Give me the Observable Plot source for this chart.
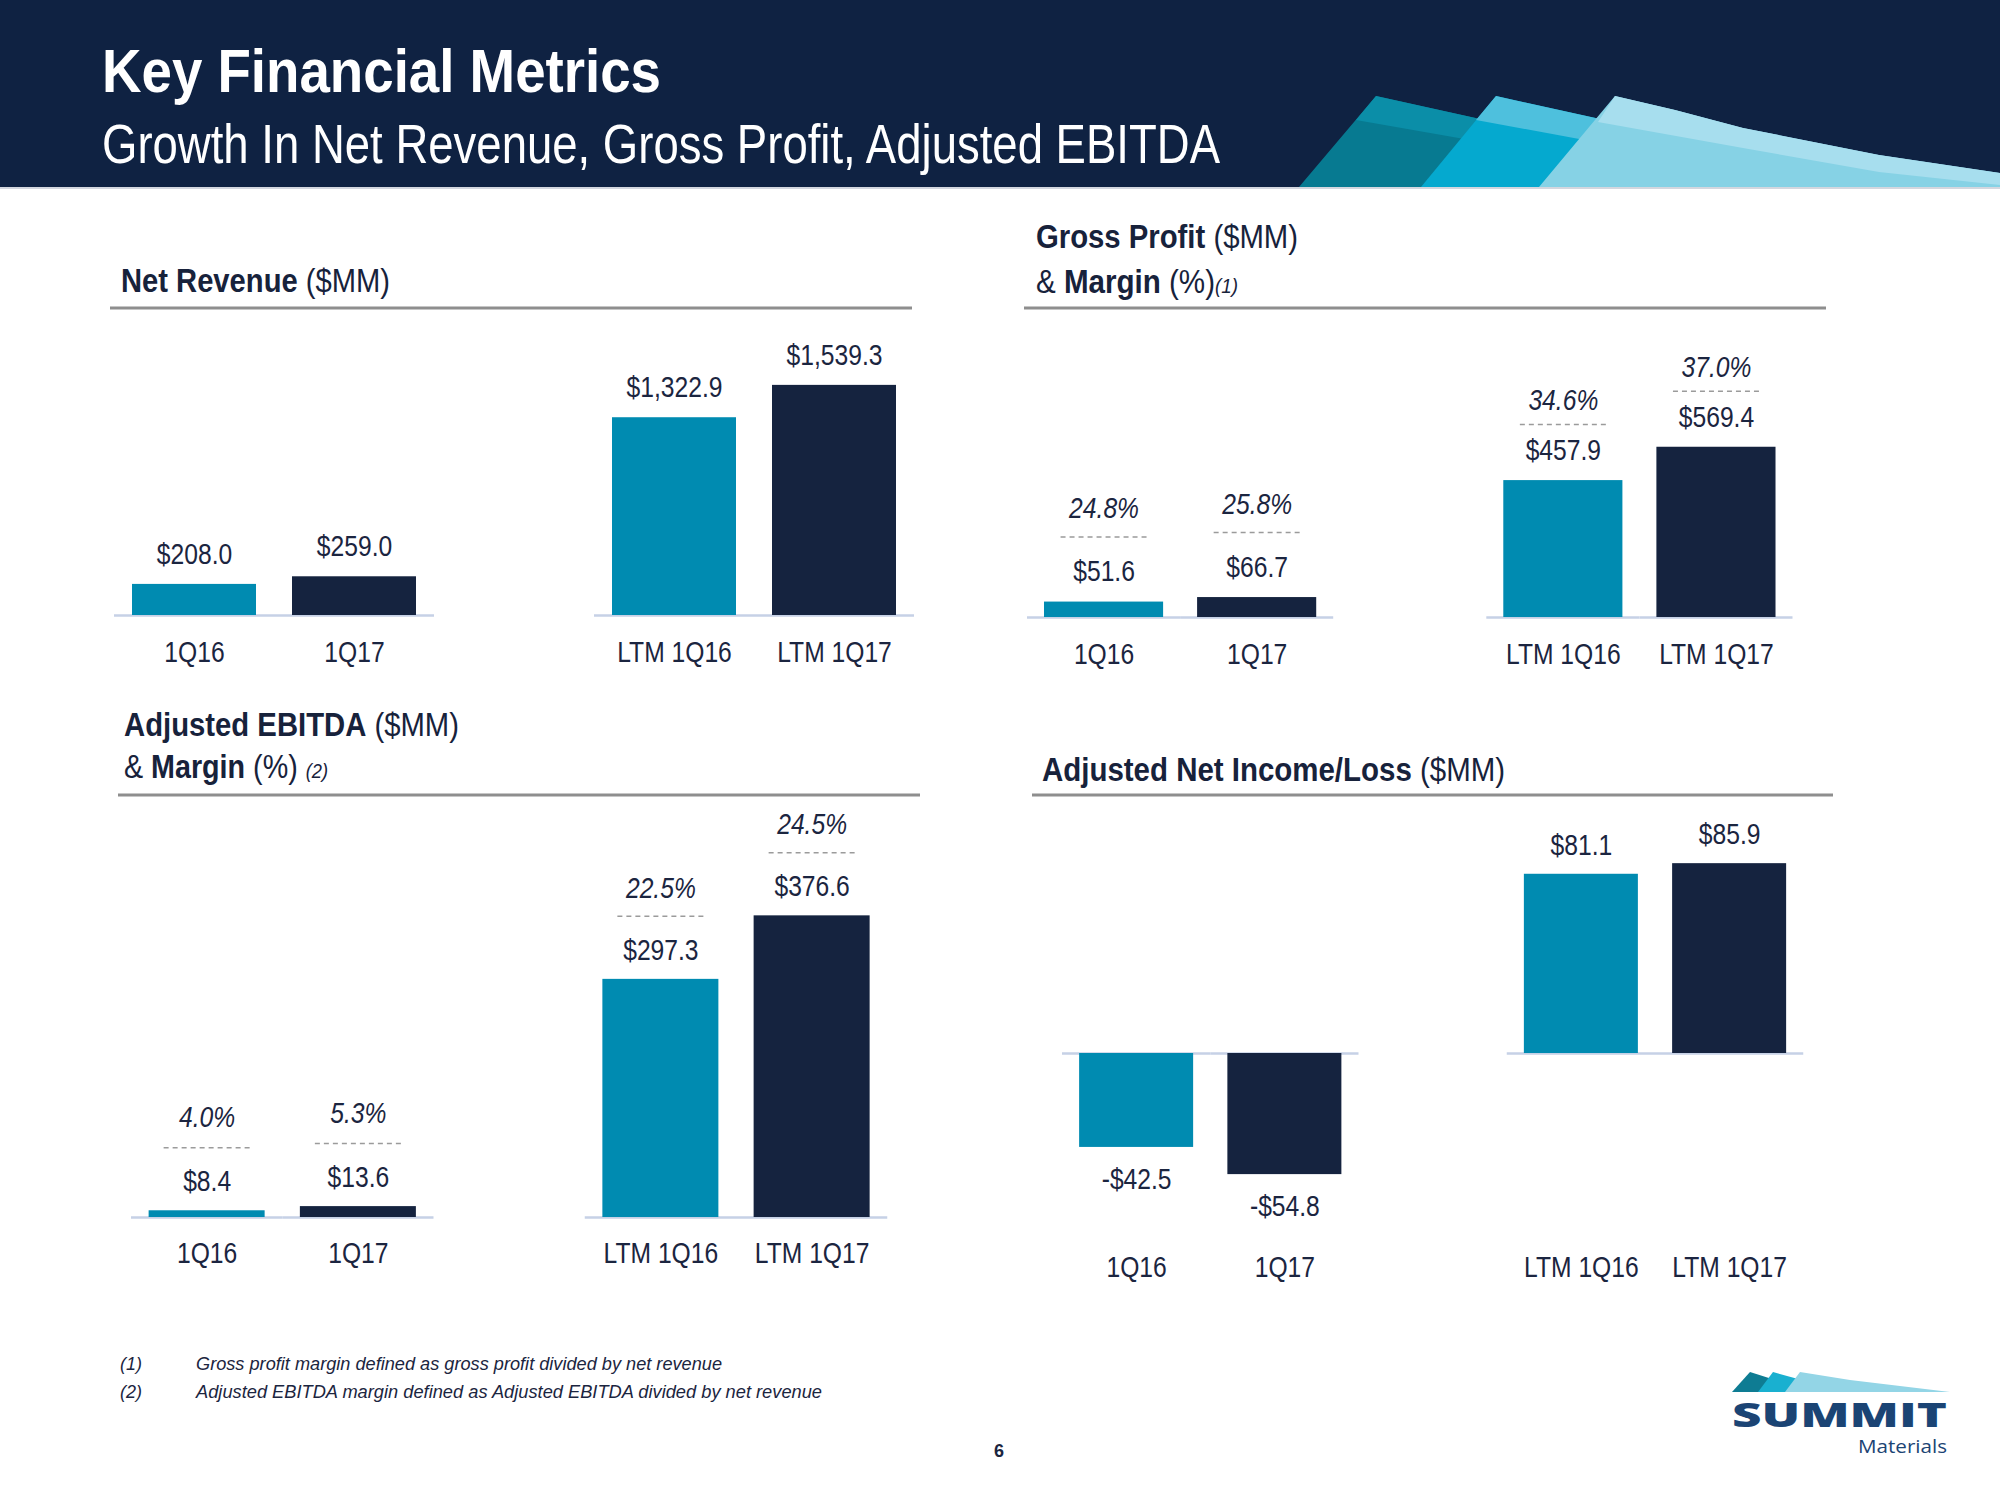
<!DOCTYPE html>
<html>
<head>
<meta charset="utf-8">
<script src="https://cdn.jsdelivr.net/npm/d3@7"></script>
<script src="https://cdn.jsdelivr.net/npm/@observablehq/plot@0.6"></script>
<style>
  html, body { margin: 0; padding: 0; background: #ffffff; }
  body { width: 2000px; height: 1500px; position: relative; overflow: hidden;
         font-family: "Liberation Sans Narrow", "Arial Narrow", "Liberation Sans", Arial, sans-serif; }
  #bg { position: absolute; left: 0; top: 0; }
  .panel { position: absolute; }
  .panel svg { overflow: visible; max-width: none !important; }
</style>
</head>
<body>
<svg id="bg" width="2000" height="1500" xmlns="http://www.w3.org/2000/svg"
     font-family="'Liberation Sans Narrow','Arial Narrow','Liberation Sans',Arial,sans-serif">
  <!-- header band -->
  <rect x="0" y="0" width="2000" height="187" fill="#0f2242"/>
  <rect x="0" y="187" width="2000" height="2" fill="#d3d7df"/>
  <!-- header decoration -->
  <path d="M1299,187 L1376,96 L1480,119 L1800,187 Z" fill="#077a91"/>
  <path d="M1376,96 L1480,119 L1470,140 L1356,120 Z" fill="#0b8ea8"/>
  <path d="M1421,187 L1496,96 L1600,119 L1900,187 Z" fill="#05a9cf"/>
  <path d="M1496,96 L1600,119 L1590,141 L1476,120 Z" fill="#4ec0dd"/>
  <path d="M1539,187 L1615,96 L1675,110 L1743,128 L1879,155 L2000,173 L2000,187 Z" fill="#86d2e5"/>
  <path d="M1615,96 L1675,110 L1743,128 L1879,155 L2000,173 L2000,185 L1879,172 L1743,148 L1598,122 Z" fill="#a7deee"/>
  <text x="102" y="92" fill="#ffffff" font-size="61" font-weight="bold" textLength="559" lengthAdjust="spacingAndGlyphs">Key Financial Metrics</text>
  <text x="102" y="163" fill="#ffffff" font-size="56" textLength="1118" lengthAdjust="spacingAndGlyphs">Growth In Net Revenue, Gross Profit, Adjusted EBITDA</text>

  <!-- panel titles & rules -->
  <g fill="#17223b">
    <text x="121" y="292" font-size="33" textLength="269" lengthAdjust="spacingAndGlyphs"><tspan font-weight="bold">Net Revenue</tspan> ($MM)</text>
    <text x="1036" y="248" font-size="33" textLength="262" lengthAdjust="spacingAndGlyphs"><tspan font-weight="bold">Gross Profit</tspan> ($MM)</text>
    <text x="1036" y="293" font-size="33" textLength="202" lengthAdjust="spacingAndGlyphs">&amp; <tspan font-weight="bold">Margin</tspan> (%)<tspan font-style="italic" font-size="21">(1)</tspan></text>
    <text x="124" y="736" font-size="33" textLength="335" lengthAdjust="spacingAndGlyphs"><tspan font-weight="bold">Adjusted EBITDA</tspan> ($MM)</text>
    <text x="124" y="778" font-size="33" textLength="204" lengthAdjust="spacingAndGlyphs">&amp; <tspan font-weight="bold">Margin</tspan> (%) <tspan font-style="italic" font-size="21">(2)</tspan></text>
    <text x="1042" y="781" font-size="33" textLength="463" lengthAdjust="spacingAndGlyphs"><tspan font-weight="bold">Adjusted Net Income/Loss</tspan> ($MM)</text>
  </g>
  <g fill="#8e8e8e">
    <rect x="110" y="306.5" width="802" height="3"/>
    <rect x="1024" y="306.5" width="802" height="3"/>
    <rect x="118" y="793.5" width="802" height="3"/>
    <rect x="1032" y="793.5" width="801" height="3"/>
  </g>

  <!-- footnotes -->
  <g fill="#1b2540" font-size="18" font-style="italic">
    <text x="120" y="1370">(1)</text>
    <text x="196" y="1370" textLength="526" lengthAdjust="spacingAndGlyphs">Gross profit margin defined as gross profit divided by net revenue</text>
    <text x="120" y="1398">(2)</text>
    <text x="196" y="1398" textLength="626" lengthAdjust="spacingAndGlyphs">Adjusted EBITDA margin defined as Adjusted EBITDA divided by net revenue</text>
  </g>
  <text x="999" y="1457" fill="#1b2540" font-size="18" font-weight="bold" text-anchor="middle">6</text>

  <!-- logo -->
  <path d="M1732,1392 L1750,1372 L1772,1379 L1800,1392 Z" fill="#0e7c93"/>
  <path d="M1758,1392 L1773,1372 L1798,1379 L1830,1392 Z" fill="#19b0d0"/>
  <path d="M1785,1392 L1800,1372 L1850,1380 L1950,1392 Z" fill="#93d5e6"/>
  <text x="1732" y="1427" fill="#1b4474" font-size="33" font-weight="900" font-family="'Open Sans','DejaVu Sans',sans-serif" textLength="215" lengthAdjust="spacingAndGlyphs">SUMMIT</text>
  <text x="1947" y="1453" fill="#1b4474" font-size="18" text-anchor="end" font-family="'Open Sans','DejaVu Sans',sans-serif" textLength="89" lengthAdjust="spacingAndGlyphs">Materials</text>
</svg>

<div id="p1" class="panel"></div>
<div id="p2" class="panel"></div>
<div id="p3" class="panel"></div>
<div id="p4" class="panel"></div>

<script>
// ---------------- data ----------------
const categories = ["1Q16", "1Q17", "LTM 1Q16", "LTM 1Q17"];
const netRevenue = [208.0, 259.0, 1322.9, 1539.3];
const grossProfit = [51.6, 66.7, 457.9, 569.4];
const grossMargin = [24.8, 25.8, 34.6, 37.0];
const adjEbitda = [8.4, 13.6, 297.3, 376.6];
const ebitdaMargin = [4.0, 5.3, 22.5, 24.5];
const adjNetIncome = [-42.5, -54.8, 81.1, 85.9];

// ---------------- style ----------------
const TEAL = "#008bb1";
const NAVY = "#15233f";
const BASE = "#c6d1e6";
const TEXT = "#1b2540";
const FONT = "'Liberation Sans Narrow','Arial Narrow','Liberation Sans',Arial,sans-serif";
const CONDENSE = 0.85; // emulate a narrow face

const fmtMoney = v => (v < 0 ? "-$" : "$") + d3.format(",.1f")(Math.abs(v));
const fmtPct = v => d3.format(".1f")(v) + "%";

// layout of each panel (pixel geometry of the page)
const panels = [
  {id: "p1", values: netRevenue, margins: null,
   x0: 114, step: 160, pi: 0.225, top: 330, base: 615, bottom: 615, k: 0.1495,
   valueDy: 30, tickDy: 37},
  {id: "p2", values: grossProfit, margins: grossMargin,
   x0: 1027, step: 153.1, pi: 0.222, top: 330, base: 617, bottom: 617, k: 0.299,
   valueDy: 30, tickDy: 37, dash: [-65, -56], pct: [-93, -80]},
  {id: "p3", values: adjEbitda, margins: ebitdaMargin,
   x0: 131.4, step: 151.25, pi: 0.233, top: 810, base: 1217, bottom: 1217, k: 0.801,
   valueDy: 29, tickDy: 36, dash: [-63, -63], pct: [-93, -91]},
  {id: "p4", values: adjNetIncome, margins: null,
   x0: 1062, step: 148.25, pi: 0.231, top: 810, base: 1053, bottom: 1230, k: 2.21,
   valueDy: 29, negDy: 32, tickDy: 37}
];

function drawPanel(cfg) {
  const rows = categories.map((c, i) => ({
    cat: c, value: cfg.values[i],
    margin: cfg.margins ? cfg.margins[i] : null,
    group: i < 2 ? 0 : 1
  }));
  const mL = 40, mR = 40, mT = 40, mB = 70;
  const frameH = cfg.bottom - cfg.top;
  const width = mL + 5 * cfg.step + mR;
  const height = mT + frameH + mB;
  const gap = cfg.pi * cfg.step;
  const bw = cfg.step - gap;
  const xDomain = [categories[0], categories[1], "\u00a0gap\u00a0", categories[2], categories[3]];

  const marks = [
    Plot.tickY(rows, {x: "cat", y: () => 0, stroke: BASE, strokeWidth: 2.5,
                      insetLeft: -gap / 2, insetRight: -gap / 2}),
    Plot.barY(rows, {x: "cat", y: "value", fill: "cat"}),
    Plot.text(rows.filter(d => d.value >= 0), {x: "cat", y: "value", text: d => fmtMoney(d.value),
      dy: -cfg.valueDy, fontSize: 29, fill: TEXT}),
    Plot.text(rows.filter(d => d.value < 0), {x: "cat", y: "value", text: d => fmtMoney(d.value),
      dy: cfg.negDy || 32, fontSize: 29, fill: TEXT}),
    Plot.text(rows, {x: "cat", text: "cat", frameAnchor: "bottom", lineAnchor: "middle",
      dy: cfg.tickDy, fontSize: 29, fill: TEXT})
  ];
  if (cfg.margins) {
    const ins = (bw - 86) / 2;
    [0, 1].forEach(g => {
      const sub = rows.filter(d => d.group === g);
      marks.push(Plot.tickY(sub, {x: "cat", y: "value", dy: cfg.dash[g], stroke: "#9b9b9b",
        strokeWidth: 1.5, strokeDasharray: "5,4", insetLeft: ins, insetRight: ins}));
      marks.push(Plot.text(sub, {x: "cat", y: "value", text: d => fmtPct(d.margin), dy: cfg.pct[g],
        fontSize: 29, fontStyle: "italic", fill: TEXT}));
    });
  }

  const svg = Plot.plot({
    width, height,
    marginLeft: mL, marginRight: mR, marginTop: mT, marginBottom: mB,
    x: {domain: xDomain, paddingInner: cfg.pi, paddingOuter: cfg.pi / 2, round: false, axis: null},
    y: {domain: [-(cfg.bottom - cfg.base) / cfg.k, (cfg.base - cfg.top) / cfg.k], axis: null},
    color: {domain: categories, range: [TEAL, NAVY, TEAL, NAVY]},
    style: {fontFamily: FONT, color: TEXT, background: "transparent", overflow: "visible"},
    marks
  });
  const host = document.getElementById(cfg.id);
  host.style.left = (cfg.x0 - mL) + "px";
  host.style.top = (cfg.top - mT) + "px";
  host.style.width = width + "px";
  host.style.height = height + "px";
  host.appendChild(svg);
  // condense label glyphs horizontally to mimic the narrow typeface of the original
  svg.querySelectorAll("text").forEach(t => {
    const L = t.getComputedTextLength();
    if (L > 0) {
      t.setAttribute("textLength", (L * CONDENSE).toFixed(1));
      t.setAttribute("lengthAdjust", "spacingAndGlyphs");
    }
  });
}

panels.forEach(drawPanel);
</script>
</body>
</html>
